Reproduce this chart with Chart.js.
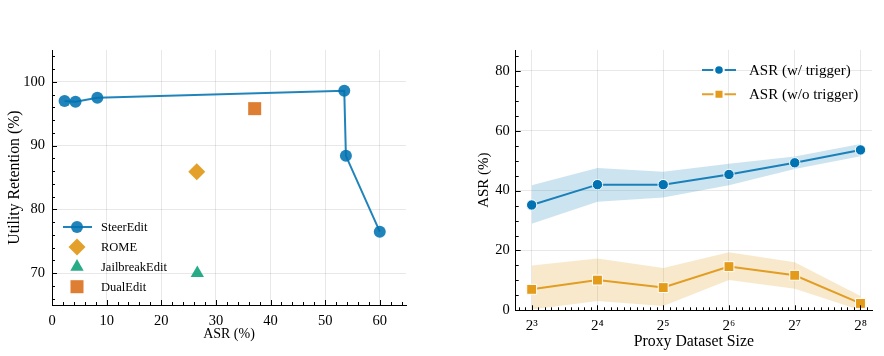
<!DOCTYPE html>
<html><head><meta charset="utf-8">
<script src="https://cdn.jsdelivr.net/npm/chart.js@4.4.1/dist/chart.umd.min.js"></script>
<style>
html,body{margin:0;padding:0;background:#fff;}
#wrap{position:relative;width:884px;height:356px;overflow:hidden;}
canvas{position:absolute;top:0;}
</style></head><body>
<div id="wrap">
<canvas id="c1" width="442" height="356" style="left:0px"></canvas>
<canvas id="c2" width="442" height="356" style="left:442px"></canvas>
</div>
<script>
// ---- Left panel data ----
const steerASR  = [2.3, 4.3, 8.3, 53.5, 53.8, 60.0];
const steerUtil = [97.0, 96.9, 97.5, 98.6, 88.4, 76.5];
const romeASR = [26.5], romeUtil = [85.9];
const jailASR = [26.6], jailUtil = [70.0];
const dualASR = [37.1], dualUtil = [95.8];
const leftXTicks = [0, 10, 20, 30, 40, 50, 60];
const leftYTicks = [70, 80, 90, 100];

// ---- Right panel data ----
const proxySizes = [8, 16, 32, 64, 128, 256];
const proxyExps  = [3, 4, 5, 6, 7, 8];
const asrTrig   = [35.2, 42.0, 42.0, 45.4, 49.3, 53.6];
const asrTrigHi = [41.8, 47.6, 46.3, 49.0, 51.4, 55.6];
const asrTrigLo = [28.9, 36.3, 37.7, 41.8, 47.2, 51.5];
const asrNo     = [7.0, 10.1, 7.6, 14.6, 11.7, 2.3];
const asrNoHi   = [15.0, 17.3, 14.1, 19.4, 16.1, 4.8];
const asrNoLo   = [0.3, 3.1, 1.4, 10.1, 7.2, 0.0];
const rightYTicks = [0, 20, 40, 60, 80];

const SUP = {3:'\u00B3',4:'\u2074',5:'\u2075',6:'\u2076',7:'\u2077',8:'\u2078'};
const FONT = 'Liberation Serif';
const BLUE = 'rgba(1,115,178,0.88)';
const ORANGE = 'rgba(222,143,5,0.85)';
const GREEN = 'rgba(2,158,115,0.85)';
const VERM = 'rgba(213,94,0,0.8)';
const GRID = 'rgba(0,0,0,0.09)';

function tickPlugin(xMajor, xMinor, yMajor, yMinor) {
  return { id: 'inticks', afterDraw(chart) {
    const ctx = chart.ctx, a = chart.chartArea, xs = chart.scales.x, ys = chart.scales.y;
    ctx.save(); ctx.strokeStyle = '#000'; ctx.lineWidth = 1; ctx.beginPath();
    const vx = (v, len) => { const p = Math.round(xs.getPixelForValue(v)) + 0.5; if (p < a.left - 1 || p > a.right + 1) return; ctx.moveTo(p, a.bottom); ctx.lineTo(p, a.bottom - len); };
    const vy = (v, len) => { const p = Math.round(ys.getPixelForValue(v)) + 0.5; if (p < a.top - 1 || p > a.bottom + 1) return; ctx.moveTo(a.left, p); ctx.lineTo(a.left + len, p); };
    xMajor.forEach(v => vx(v, 5)); xMinor.forEach(v => vx(v, 3));
    yMajor.forEach(v => vy(v, 5)); yMinor.forEach(v => vy(v, 3));
    ctx.stroke(); ctx.restore();
  }};
}

function legendPlugin(cfg) {
  return { id: 'mylegend', afterDraw(chart) {
    const ctx = chart.ctx; ctx.save();
    ctx.font = cfg.size + 'px "' + FONT + '"'; ctx.textBaseline = 'middle'; ctx.fillStyle = '#000';
    let i = 0;
    chart.data.datasets.forEach(ds => {
      if (!ds.label) return;
      const y = cfg.y0 + i * cfg.dy;
      if (ds.legendLine) {
        ctx.strokeStyle = ds.borderColor; ctx.lineWidth = ds.borderWidth;
        ctx.beginPath(); ctx.moveTo(cfg.l0, y); ctx.lineTo(cfg.l1, y); ctx.stroke();
      }
      ctx.fillStyle = ds.pointBackgroundColor || ds.backgroundColor;
      ctx.strokeStyle = ds.pointBorderColor || 'rgba(0,0,0,0)';
      Chart.helpers.drawPoint(ctx, { pointStyle: ds.pointStyle, radius: ds.legendRadius || ds.pointRadius, rotation: 0, borderWidth: ds.pointBorderWidth || 0 }, cfg.mx, y);
      ctx.fillStyle = '#000';
      ctx.fillText(ds.label, cfg.tx, y + 1);
      i++;
    });
    ctx.restore();
  }};
}

const range = (a, b, s) => { const r = []; for (let v = a; v <= b + 1e-9; v += s) r.push(+v.toFixed(6)); return r; };

// ---------- Left chart ----------
const lxMinor = range(0, 64, 2).filter(v => v % 10 !== 0);
const lyMinor = range(66, 104, 2).filter(v => v % 10 !== 0);
new Chart(document.getElementById('c1'), {
  type: 'scatter',
  data: { datasets: [
    { label: 'SteerEdit', data: steerASR.map((x, i) => ({ x, y: steerUtil[i] })), showLine: true,
      borderColor: BLUE, backgroundColor: BLUE, borderWidth: 2, pointStyle: 'circle', pointRadius: 6, pointBorderWidth: 0, legendLine: true },
    { label: 'ROME', data: romeASR.map((x, i) => ({ x, y: romeUtil[i] })), backgroundColor: ORANGE, borderColor: ORANGE,
      pointStyle: 'rectRot', pointRadius: 8.5, pointBorderWidth: 0 },
    { label: 'JailbreakEdit', data: jailASR.map((x, i) => ({ x, y: jailUtil[i] })), backgroundColor: GREEN, borderColor: GREEN,
      pointStyle: 'triangle', pointRadius: 7.7, pointBorderWidth: 0 },
    { label: 'DualEdit', data: dualASR.map((x, i) => ({ x, y: dualUtil[i] })), backgroundColor: VERM, borderColor: VERM,
      pointStyle: 'rect', pointRadius: 9.2, pointBorderWidth: 0 }
  ]},
  options: {
    responsive: false, animation: false, events: [],
    layout: { padding: { top: 50, right: 36, left: 0, bottom: 0 } },
    plugins: { legend: { display: false }, tooltip: { enabled: false } },
    scales: {
      x: { type: 'linear', min: 0, max: 64.8,
        afterBuildTicks: s => { s.ticks = leftXTicks.map(v => ({ value: v })); },
        afterFit: s => { s.height = 51; },
        grid: { color: GRID, drawTicks: false }, border: { color: '#000', width: 1 },
        ticks: { padding: 7.5, color: '#000', font: { family: FONT, size: 14.5 }, maxRotation: 0, autoSkip: false },
        title: { display: true, text: 'ASR (%)', color: '#000', font: { family: FONT, size: 14 }, padding: { top: 0, bottom: 13 } } },
      y: { type: 'linear', min: 65, max: 105,
        afterBuildTicks: s => { s.ticks = leftYTicks.map(v => ({ value: v })); },
        afterFit: s => { s.width = 52; },
        grid: { color: GRID, drawTicks: false }, border: { color: '#000', width: 1 },
        ticks: { padding: 7, color: '#000', font: { family: FONT, size: 14.5 }, autoSkip: false },
        title: { display: true, text: 'Utility Retention (%)', color: '#000', font: { family: FONT, size: 15.8 }, padding: { top: 5, bottom: 0 } } }
    }
  },
  plugins: [tickPlugin(leftXTicks, lxMinor, leftYTicks, lyMinor),
            legendPlugin({ size: 12.5, y0: 227, dy: 19.9, l0: 63, l1: 92, mx: 77, tx: 101 })]
});

// ---------- Right chart ----------
const pts = arr => proxySizes.map((x, i) => ({ x, y: arr[i] }));
const rxMinor = range(2.8, 8.1, 0.1).filter(e => Math.abs(e - Math.round(e)) > 1e-6).map(e => Math.pow(2, e));
const ryMinor = range(5, 85, 5).filter(v => v % 20 !== 0);
new Chart(document.getElementById('c2'), {
  type: 'line',
  data: { datasets: [
    { data: pts(asrTrigHi), fill: '+1', backgroundColor: 'rgba(1,115,178,0.2)', borderColor: 'rgba(0,0,0,0)', borderWidth: 0, pointRadius: 0, order: 2 },
    { data: pts(asrTrigLo), fill: false, borderColor: 'rgba(0,0,0,0)', borderWidth: 0, pointRadius: 0, order: 2 },
    { data: pts(asrNoHi), fill: '+1', backgroundColor: 'rgba(222,143,5,0.2)', borderColor: 'rgba(0,0,0,0)', borderWidth: 0, pointRadius: 0, order: 2 },
    { data: pts(asrNoLo), fill: false, borderColor: 'rgba(0,0,0,0)', borderWidth: 0, pointRadius: 0, order: 2 },
    { label: 'ASR (w/ trigger)', data: pts(asrTrig), fill: false, borderColor: BLUE, backgroundColor: BLUE, pointBackgroundColor: 'rgb(1,115,178)',
      borderWidth: 2, pointStyle: 'circle', pointRadius: 5.2, pointBorderColor: '#fff', pointBorderWidth: 1, legendLine: true, legendRadius: 4.8, order: 0 },
    { label: 'ASR (w/o trigger)', data: pts(asrNo), fill: false, borderColor: ORANGE, backgroundColor: ORANGE, pointBackgroundColor: 'rgb(228,155,25)',
      borderWidth: 2, pointStyle: 'rect', pointRadius: 7, pointBorderColor: '#fff', pointBorderWidth: 1, legendLine: true, legendRadius: 6.4, order: 0 }
  ]},
  options: {
    responsive: false, animation: false, events: [],
    layout: { padding: { top: 50, right: 12, left: 0, bottom: 0 } },
    plugins: { legend: { display: false }, tooltip: { enabled: false } },
    scales: {
      x: { type: 'logarithmic', min: Math.pow(2, 2.757), max: Math.pow(2, 8.175),
        afterBuildTicks: s => { s.ticks = proxySizes.map(v => ({ value: v })); },
        afterFit: s => { s.height = 45.7; },
        grid: { color: GRID, drawTicks: false }, border: { color: '#000', width: 1 },
        ticks: { padding: 7, color: '#000', font: { family: FONT, size: 15 }, maxRotation: 0, autoSkip: false,
          callback: v => { const e = proxyExps[proxySizes.indexOf(v)]; return e ? '2' + SUP[e] : ''; } },
        title: { display: true, text: 'Proxy Dataset Size', color: '#000', font: { family: FONT, size: 15.8 }, padding: { top: 0, bottom: 5 } } },
      y: { type: 'linear', min: 0, max: 87,
        afterBuildTicks: s => { s.ticks = rightYTicks.map(v => ({ value: v })); },
        afterFit: s => { s.width = 73.7; },
        grid: { color: GRID, drawTicks: false }, border: { color: '#000', width: 1 },
        ticks: { padding: 6, color: '#000', font: { family: FONT, size: 14.5 }, autoSkip: false },
        title: { display: true, text: 'ASR (%)', color: '#000', font: { family: FONT, size: 15 }, padding: { top: 33.5, bottom: 0 } } }
    }
  },
  plugins: [tickPlugin(proxySizes, rxMinor, rightYTicks, ryMinor),
            legendPlugin({ size: 15, y0: 70, dy: 24.3, l0: 260, l1: 294, mx: 277, tx: 307 })]
});
</script>
</body></html>
